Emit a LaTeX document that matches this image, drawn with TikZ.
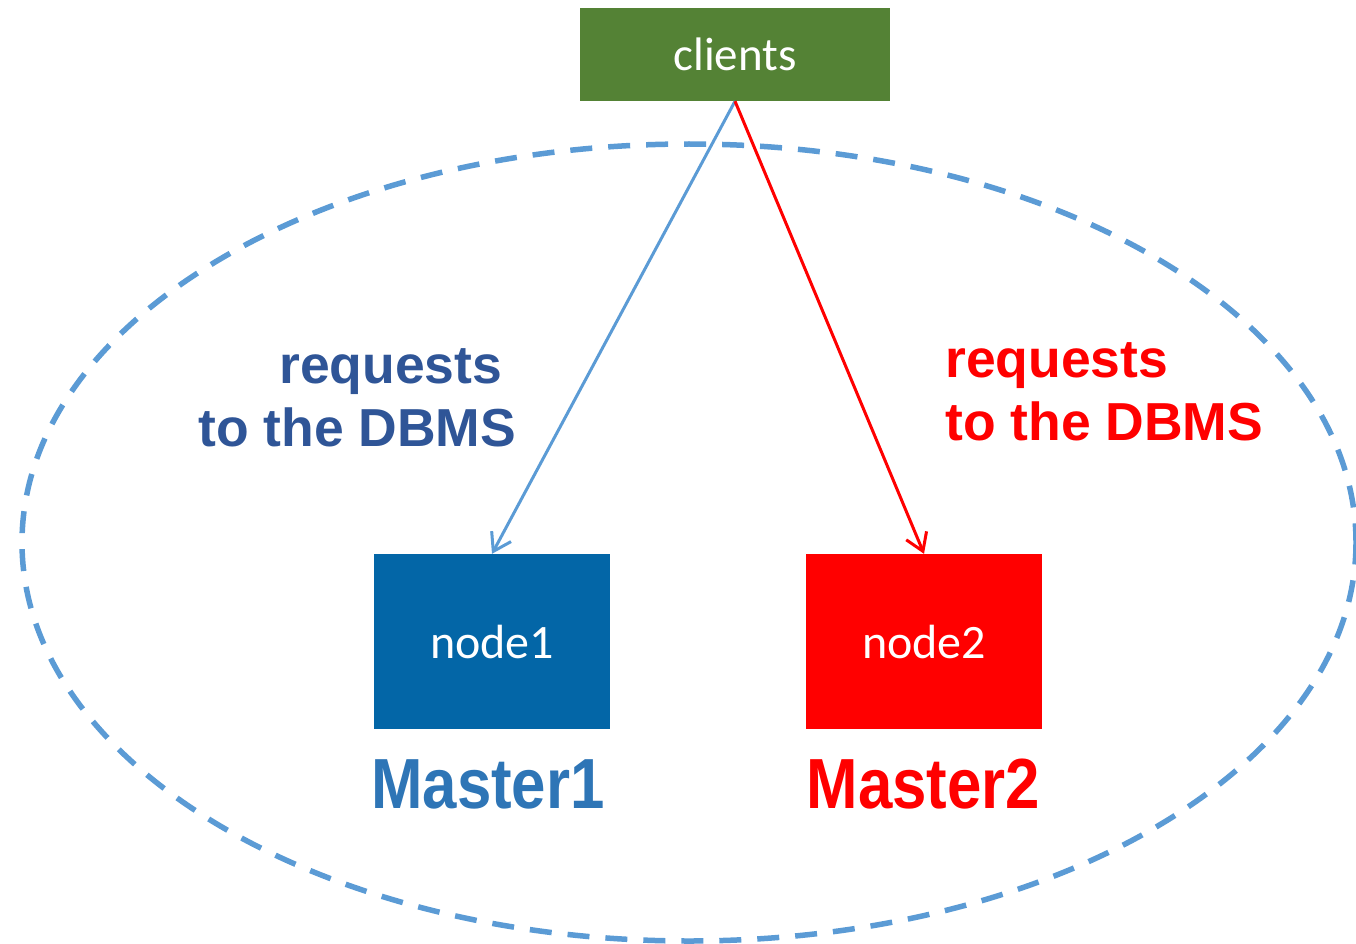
\documentclass[tikz,border=0pt]{standalone}
\usepackage{fontspec}
\usetikzlibrary{arrows.meta}
\newfontfamily\boxfont{Carlito}
\newfontfamily\labelfont{Liberation Sans}
\newfontfamily\masterfont{Liberation Sans}[FakeStretch=0.87]
\definecolor{clientgreen}{HTML}{548235}
\definecolor{nodeblue}{HTML}{0366A7}
\definecolor{lineblue}{HTML}{5B9BD5}
\definecolor{labelblue}{HTML}{2F5597}
\definecolor{masterblue}{HTML}{2E75B6}
\definecolor{pureRed}{HTML}{FF0000}
\tikzset{
  box/.style={draw=none, inner sep=0pt, text=white},
  reqlabel/.style={inner sep=0pt, anchor=base west,
    font=\labelfont\bfseries\fontsize{53.5}{53.5}\selectfont},
  masterlabel/.style={inner sep=0pt, anchor=base,
    font=\masterfont\bfseries\fontsize{71}{71}\selectfont},
  request/.style={line width=3pt, -{Straight Barb[length=17pt,width=22pt]}},
  cluster/.style={draw=lineblue, line width=5.5pt, dash pattern=on 22pt off 16pt},
}
\begin{document}
\begin{tikzpicture}[x=1pt, y=-1pt]
  \useasboundingbox (0,0) rectangle (1356,944);

  % the replicated cluster
  \draw[cluster] (689,542.5) ellipse [x radius=667, y radius=398.5];

  % clients and the two masters
  \node[box, font=\boxfont\fontsize{47}{47}\selectfont, fill=clientgreen,
        minimum width=310pt, minimum height=93pt] (clients) at (735,54.5) {clients};
  \node[box, font=\boxfont\fontsize{48}{48}\selectfont, fill=nodeblue,
        minimum width=236pt, minimum height=175pt] (node1) at (492,641.5) {node1};
  \node[box, font=\boxfont\fontsize{48}{48}\selectfont, fill=pureRed,
        minimum width=236pt, minimum height=175pt] (node2) at (924,641.5) {node2};

  % requests from the clients
  \draw[request, lineblue] (clients.south) -- (node1.north);
  \draw[request, pureRed] (clients.south) -- (node2.north);

  % labels
  \node[reqlabel, text=labelblue] (lreqa) at (279,383) {requests};
  \node[reqlabel, text=labelblue] (lreqb) at (198,446) {to the DBMS};
  \node[reqlabel, text=pureRed] (rreqa) at (945,377) {requests};
  \node[reqlabel, text=pureRed] (rreqb) at (945,440) {to the DBMS};

  \node[masterlabel, text=masterblue] (m1) at (488,808) {Master1};
  \node[masterlabel, text=pureRed] (m2) at (923.5,808) {Master2};
\end{tikzpicture}
\end{document}
